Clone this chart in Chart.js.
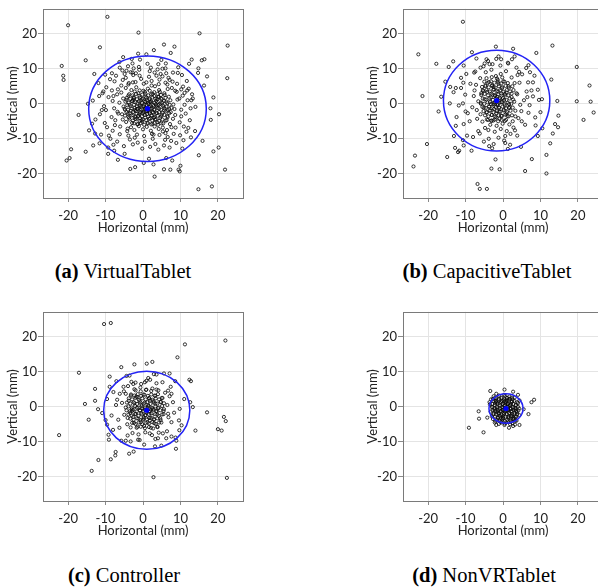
<!DOCTYPE html>
<html>
<head>
<meta charset="utf-8">
<script src="https://cdn.jsdelivr.net/npm/chart.js@4.4.1/dist/chart.umd.min.js"></script>
<style>
  html, body { margin: 0; padding: 0; background: #fff; overflow: hidden; }
  body { width: 598px; height: 588px; position: relative; }
  canvas { position: absolute; }
  .cap { position: absolute; font-family: "Liberation Serif", "DejaVu Serif", serif; font-size: 20.5px; color: #000; white-space: nowrap; transform: translate(-50%, -50%); }
  .cap b { font-weight: bold; }
</style>
</head>
<body>
<canvas id="chartA" width="300" height="250" style="left:0;top:0"></canvas>
<canvas id="chartB" width="300" height="250" style="left:360px;top:0"></canvas>
<canvas id="chartC" width="300" height="250" style="left:0;top:303px"></canvas>
<canvas id="chartD" width="300" height="250" style="left:360px;top:303px"></canvas>
<div class="cap" style="left:123px;top:271px"><b>(a)</b> VirtualTablet</div>
<div class="cap" style="left:487px;top:271px"><b>(b)</b> CapacitiveTablet</div>
<div class="cap" style="left:124px;top:575px"><b>(c)</b> Controller</div>
<div class="cap" style="left:484px;top:575px"><b>(d)</b> NonVRTablet</div>
<script>
// Axis setup
const xRange = [-26.7, 26.7];
const yRange = [-27, 27];
const tickStep = 10;

// Panel (a) VirtualTablet - selection points (mm)
const virtualTabletPoints = [
  [-20,22.3],[-9.5,24.7],[-1.2,20.2],[15.1,20.0],[22.6,16.5],[-11.5,16.0],[2.9,15.2],[5.6,16.8],[8.4,16.2],[7.4,14.4],
  [-1.3,14.2],[-5.3,13.2],[-21.7,10.7],[-21.3,7.9],[-21.2,6.7],[-15.3,12.3],[-13.0,8.4],[-10.1,8.2],[22.5,7.2],[17.1,7.7],
  [13.0,12.5],[12.3,11.3],[15.7,12.3],[16.4,12.6],[14.8,10.0],[14.7,8.7],[16.3,5.1],[18.8,1.7],[18.0,-1.4],[18.1,-4.7],
  [20.3,-3.1],[-17.2,-3.3],[-13.6,-5.8],[-14.4,-7.7],[-19.2,-13.1],[-19.6,-15.6],[-20.4,-16.3],[-15.3,-13.8],[-9.3,-14.4],[-6.7,-16.1],
  [-4.9,-14.4],[-3.4,-18.7],[-2.1,-18.2],[0.2,-17.0],[3.1,-20.9],[1.6,-15.8],[2.8,-17.4],[5.6,-18.8],[7.3,-18.9],[6.2,-15.6],
  [9.5,-18.9],[9.8,-19.4],[10.0,-17.8],[7.8,-16.3],[14.8,-24.5],[18.4,-23.7],[21.9,-18.9],[20.2,-12.6],[18.8,-13.7],[14.9,-14.8],
  [15.9,-10.7],[13.9,-7.9],[12.1,-7.0],[10.8,-10.5],[11.6,-8.1],[10.5,-12.9],[-12.8,-8.6],[-11.6,-11.4],[-9.1,-9.2],[-7.7,-13.5],
  [-7.9,-11.8],[-13.3,-12.0],[-14.7,-0.1],[-11.7,2.1],[-11.0,-1.9],[-9.9,-1.9],[-10.6,3.4],[-7.6,6.3],[-6.7,4.0],[-8.1,0.7],
  [-8.3,3.7],[-5.3,1.4],[8.0,8.8],[9.3,8.7],[10.4,8.1],[5.2,7.7],[6.5,5.4],[11.1,3.0],[12.9,0.9],[13.3,1.4],
  [12.7,-1.4],[9.0,3.3],[10.2,4.0],[11.8,3.7],[12.2,4.2],[7.7,4.4],[6.0,10.0],[4.1,11.2],[1.2,11.3],[-1.1,10.4],
  [-2.5,10.0],[-2.8,11.4],[-2.8,8.8],[-4.4,9.3],[-4.9,8.4],[-6.2,10.2],[-0.9,7.9],[0.9,6.0],[3.1,8.8],[3.6,7.9],
  [4.4,6.8],[7.1,6.7],[2.3,5.1],[-2.7,6.0],[-3.9,5.4],
  [-9.2,1.8],[-8.4,-3.9],[-7.5,-6.2],[-6.9,2.6],[-6.2,-8.8],[-5.8,5.1],[-4.6,7.3],[-3.5,-10.3],[-2.6,8.1],[-1.4,-11.2],
  [-0.5,7.0],[1.8,9.2],[3.3,-11.6],[4.7,8.4],[5.9,-10.4],[6.8,7.3],[8.2,-8.7],[9.1,5.6],[9.8,-5.4],[10.6,2.2],
  [11.4,-2.9],[10.9,-6.6],[8.9,-11.3],[-9.6,-6.8],[-10.4,-0.8],[-9.8,4.6],[-7.2,7.9],[-8.7,-10.1],[-5.1,-12.2],[-0.2,-12.9],
  [4.1,-13.2],[7.1,-12.6],[12.5,-4.8],[13.1,2.6],[11.7,6.4],[9.4,10.3],[4.9,12.4],[-0.8,12.5],[-6.3,11.8],[-11.9,5.8],
  [-12.7,-4.6],[-11.2,-8.9],[-3.9,-9.2],[2.6,-10.1],[6.6,-9.6],[8.7,-6.9],[8.6,3.6],[7.9,6.2],[-1.9,8.6],[-5.4,6.7],
  [-7.7,-1.4],[-7.4,-4.8],[5.2,9.9],[2.1,10.2],[12.8,-9.7],[-13.4,0.8],[-3.0,12.7],[0.9,14.0],[14.0,-1.0],[-9.3,-12.6],
  [-8.8,6.9],[-7.9,2.1],[-6.6,-2.9],[-6.1,-6.6],[-5.5,9.4],[-4.2,-7.9],[-3.3,8.9],[-2.2,-9.8],[-1.0,9.6],[0.5,-10.9],
  [1.6,7.6],[2.8,-8.9],[3.9,9.7],[5.3,-8.0],[6.2,8.6],[7.5,-10.7],[8.4,-1.6],[9.7,1.4],[10.2,-3.7],[11.1,-0.4],
  [-10.8,2.9],[-11.5,-3.1],[-10.2,-5.6],[-8.1,-7.8],[-6.9,-10.9],[-2.7,-11.7],[1.9,-12.4],[5.6,-12.0],[9.9,-9.1],[11.9,0.9],
  [10.7,4.8],[6.1,11.4],[-4.0,10.6],[-8.3,8.6],
  [-5.8,3.1],[-4.6,4.4],[-3.9,2.2],[-3.1,3.8],[-2.4,1.5],[-1.8,4.6],[-1.2,2.9],[-0.6,0.8],[0.1,3.6],[0.7,1.9],
  [1.3,4.2],[1.9,0.4],[2.6,2.7],[3.2,4.9],[3.8,1.2],[4.5,3.3],[5.1,0.2],[5.8,2.4],[6.6,4.1],[7.3,0.9],
  [-6.3,0.2],[-5.2,-0.9],[-4.4,1.0],[-3.6,-0.4],[-2.9,0.6],[-2.2,-1.3],[-1.5,0.1],[-0.9,-0.7],[-0.3,1.2],[0.4,-0.2],
  [1.0,0.9],[1.6,-1.1],[2.2,0.3],[2.9,-0.8],[3.5,0.7],[4.1,-0.5],[4.8,1.4],[5.5,-0.9],[6.2,0.5],[7.0,-1.6],
  [8.1,-0.3],[9.2,1.1],[-6.8,-2.4],[-5.6,-3.1],[-4.8,-1.8],[-4.0,-2.9],[-3.3,-2.1],[-2.6,-3.4],[-1.9,-2.2],[-1.3,-3.6],
  [-0.7,-1.9],[-0.1,-2.8],[0.5,-1.7],[1.1,-3.0],[1.7,-2.3],[2.4,-3.5],[3.0,-1.9],[3.7,-2.7],[4.3,-1.5],[5.0,-3.2],
  [5.7,-2.0],[6.5,-3.6],[7.4,-2.5],[8.6,-3.3],[10.2,-1.8],[-5.4,-4.6],[-4.5,-5.3],[-3.7,-4.1],[-2.9,-5.6],[-2.1,-4.4],
  [-1.4,-5.9],[-0.8,-4.2],[-0.2,-5.2],[0.6,-4.0],[1.2,-5.5],[1.9,-4.3],[2.5,-5.8],[3.2,-4.6],[3.9,-5.4],[4.6,-4.1],
  [5.4,-5.7],[6.3,-4.8],[7.2,-5.9],[8.0,-4.4],[-4.1,-7.2],[-3.2,-6.8],[-2.3,-7.6],[-1.1,-6.5],[0.0,-7.4],[1.0,-6.7],
  [2.1,-7.8],[3.1,-6.6],[4.2,-7.3],[5.3,-6.9],[6.4,-7.6],[7.6,-6.8],[-1.6,-8.9],[0.3,-9.3],[2.4,-8.7],[4.4,-9.0],
  [6.0,-8.5],[-2.0,6.1],[0.2,5.6],[2.3,6.4],[4.2,5.5],[-3.8,5.8],[6.0,5.9],[0.8,-1.4],[1.5,-0.3],[0.2,-2.4],
  [2.0,-1.6],[-0.5,-0.9],[1.2,-2.2],[2.7,-2.6],[-1.0,-3.0],[3.4,-0.3],[0.6,0.4],[-1.6,-1.6],[1.8,1.4],[2.9,-4.1],
  [-0.4,-4.8],[4.0,1.9],[-2.6,1.0],
  [-3.7,2.6],[-2.8,2.3],[-1.9,2.7],[-1.0,2.2],[-0.2,2.5],[0.6,2.8],[1.4,2.3],[2.2,2.6],[3.0,2.1],[3.9,2.7],
  [4.8,2.4],[5.7,2.9],[-4.3,1.6],[-3.4,1.3],[-2.5,1.8],[-1.6,1.2],[-0.8,1.7],[0.0,1.4],[0.9,1.6],[1.7,1.1],
  [2.5,1.7],[3.3,1.3],[4.2,1.8],[5.0,1.2],[6.0,1.6],[6.9,1.9],[-4.7,0.5],[-3.8,0.2],[-2.9,0.7],[-2.0,0.3],
  [-1.1,0.6],[-0.3,0.1],[0.6,0.5],[1.4,0.0],[2.2,0.6],[3.1,0.2],[3.9,0.5],[4.7,0.0],[5.6,0.7],[6.5,0.1],
  [-4.2,-0.5],[-3.3,-0.8],[-2.4,-0.4],[-1.6,-0.9],[-0.7,-0.5],[0.2,-0.8],[1.0,-0.4],[1.9,-0.9],[2.7,-0.5],[3.6,-0.7],
  [4.4,-0.3],[5.3,-0.6],[6.2,-0.9],[7.1,-0.4],[-4.9,-1.5],[-4.0,-1.8],[-3.1,-1.4],[-2.2,-1.9],[-1.3,-1.5],[-0.4,-1.7],
  [0.5,-1.3],[1.3,-1.9],[2.2,-1.4],[3.1,-1.7],[3.9,-1.3],[4.8,-1.8],[5.7,-1.4],[6.6,-1.9],[7.6,-1.3],[-4.4,-2.5],
  [-3.5,-2.8],[-2.6,-2.4],[-1.7,-2.9],[-0.8,-2.5],[0.1,-2.7],[0.9,-2.3],[1.8,-2.8],[2.6,-2.4],[3.5,-2.9],[4.3,-2.5],
  [5.2,-2.7],[6.1,-2.3],[7.0,-2.8],[-4.8,-3.5],[-3.9,-3.8],[-3.0,-3.4],[-2.1,-3.9],[-1.2,-3.5],[-0.3,-3.7],[0.5,-3.3],
  [1.4,-3.8],[2.2,-3.4],[3.1,-3.9],[3.9,-3.5],[4.8,-3.7],[5.7,-3.3],[6.6,-3.9],[-3.6,-4.6],[-2.7,-4.9],[-1.8,-4.5],
  [-0.9,-5.0],[0.0,-4.6],[0.9,-4.8],[1.6,-4.4],[2.5,-4.9],[3.4,-4.5],[4.3,-5.0],[5.2,-4.6],[6.0,-4.9],[-2.4,-5.7],
  [-1.5,-6.0],[-0.6,-5.6],[0.3,-6.1],[1.3,-5.7],[2.2,-6.0],[3.1,-5.6],[4.0,-6.1],[4.9,-5.7],[-2.2,3.4],[-0.9,3.7],
  [0.5,3.3],[1.8,3.6],[3.0,3.2],[4.3,3.8]
];

// Panel (b) CapacitiveTablet
const capacitiveTabletPoints = [
  [-10.7,23.3],[-1.9,16.2],[2.7,15.6],[13.2,16.5],[8.9,14.4],[-8.3,14.6],[-22.6,14.0],[-17.8,11.3],[-13.3,12.0],[-14.5,10.4],
  [-21.5,2.1],[-16.5,1.9],[-17.2,-2.3],[-14.2,0.0],[-15.4,6.2],[19.7,10.4],[23.1,5.1],[19.7,0.6],[23.4,0.5],[24.2,-2.6],
  [21.5,-4.7],[14.5,0.7],[14.8,-3.5],[14.7,-6.8],[13.9,-5.9],[13.3,-8.6],[12.6,-11.4],[11.6,-14.7],[11.6,-20.0],[7.7,-15.9],
  [5.9,-19.3],[10.5,-7.1],[9.3,-9.3],[12.9,6.8],[10.4,1.2],[9.6,1.0],[10.0,-2.5],[8.6,-4.0],[-20.3,-11.6],[-23.5,-14.9],
  [-23.9,-18.0],[-14.9,-15.3],[-12.8,-12.7],[-11.7,-13.5],[-12.0,-13.9],[-13.1,-9.3],[-10.7,-10.5],[-10.5,-12.0],[-8.0,-9.6],[-8.4,-13.5],
  [-3.1,-18.6],[-0.9,-18.8],[-2.0,-16.0],[-6.8,-23.0],[-6.2,-24.4],[-4.3,-24.4],[-3.7,-12.2],[-2.5,-11.6],[0.6,-11.3],[1.3,-13.0],
  [4.8,-12.4],[-12.4,-3.9],[-10.5,-5.9],[-10.0,-2.3],[-10.7,0.0],[-14.1,4.7],[-12.6,4.4],[-11.2,4.4],[-9.8,8.4],[-7.7,8.8],
  [-10.6,5.9],[6.2,10.1],[6.8,10.9],[8.4,7.9],[8.0,6.0],[6.7,6.0],[7.6,3.7],[8.0,2.0],[6.5,1.8],[7.1,-0.5],
  [4.9,-2.2],[3.3,-3.7],[5.0,-5.1],[3.2,-7.7],[2.0,-8.7],[0.6,-9.3],[-1.2,-9.8],[-4.8,-7.0],[-6.6,-7.9],[-4.4,12.6],
  [-1.8,12.7],[-0.5,12.6],[1.3,11.6],[3.6,10.2],[4.3,9.0],[-6.0,10.2],[-3.6,11.2],
  [-10.1,2.5],[-9.4,-2.8],[-8.7,5.6],[-8.9,-5.1],[-7.4,9.1],[-6.2,-8.6],[-4.9,11.4],[-3.8,-10.1],[-1.2,13.4],[0.3,-10.6],
  [2.4,12.6],[3.8,-9.2],[5.1,8.3],[5.9,-6.1],[6.3,3.4],[6.8,-2.7],[5.6,0.9],[4.4,5.9],[-11.8,-0.6],[-11.2,7.3],
  [-12.6,-6.4],[-9.6,-9.2],[-7.1,12.8],[-2.9,-12.8],[1.9,-11.8],[8.7,-6.3],[9.3,3.9],[7.2,8.9],[3.1,13.4],[-10.5,10.8],
  [-13.2,3.2],[4.1,-4.2],[3.6,2.9],[-8.2,-1.1],[-7.6,3.7],[-6.9,-4.4],[2.8,-6.9],[-5.1,-10.9],
  [-7.2,5.3],[-6.1,7.2],[-5.4,3.8],[-4.6,8.9],[-3.8,6.1],[-3.1,9.6],[-2.5,4.7],[-1.9,7.8],[-1.2,5.6],[-0.6,8.4],
  [0.1,6.3],[0.8,9.2],[1.5,4.9],[2.3,7.4],[3.1,5.8],[3.9,8.1],[-7.8,2.1],[-6.6,0.6],[-5.8,2.9],[-4.9,1.2],
  [-4.2,3.3],[-3.5,0.4],[-2.8,2.5],[-2.2,-0.3],[-1.6,1.9],[-1.0,0.2],[-0.4,2.8],[0.3,1.0],[0.9,3.1],[1.6,-0.2],
  [2.3,1.8],[3.0,0.5],[3.8,2.6],[4.6,-0.4],[-7.0,-1.9],[-6.0,-3.1],[-5.1,-1.2],[-4.4,-2.6],[-3.7,-0.9],[-3.0,-3.3],
  [-2.4,-1.6],[-1.8,-2.8],[-1.1,-1.1],[-0.5,-3.5],[0.2,-1.8],[0.9,-2.9],[1.6,-1.3],[2.4,-3.4],[3.3,-2.1],[-5.5,-5.2],
  [-4.3,-4.6],[-3.4,-6.1],[-2.6,-4.9],[-1.7,-6.4],[-0.9,-4.4],[-0.1,-5.8],[0.8,-4.7],[1.7,-6.0],[2.6,-5.1],[-3.9,-7.6],
  [-2.2,-8.1],[-0.6,-7.3],[1.0,-7.9],[-5.2,10.6],[-2.8,11.2],[-0.7,10.8],[1.4,11.4],[-4.0,12.1],[-1.9,0.7],[-1.3,3.4],
  [-2.6,-0.2],[-0.8,1.5],[-2.1,2.1],[-1.5,-0.5],[-3.2,1.7],[-0.2,0.4],[-2.4,4.0],[-1.0,-2.3],[-3.6,-2.0],[0.5,-0.6],
  [-1.4,6.7],[-2.9,5.2],[-0.3,4.3],[-4.7,4.9],[0.6,2.3],[-1.8,-4.0],[-3.1,-4.9],[1.2,-3.6],[2.8,3.8],[-5.9,-0.1],
  [-5.0,6.2],[-4.1,5.8],[-3.2,6.3],[-2.3,5.9],[-1.4,6.1],[-0.5,5.7],[0.4,6.2],[1.3,5.8],[-5.6,4.7],[-4.7,5.1],
  [-3.8,4.6],[-2.9,5.0],[-2.0,4.5],[-1.1,4.9],[-0.2,4.6],[0.7,5.0],[1.6,4.5],[2.5,4.9],[-5.3,3.5],[-4.4,3.8],
  [-3.5,3.4],[-2.6,3.9],[-1.7,3.5],[-0.8,3.7],[0.1,3.3],[1.0,3.8],[1.9,3.4],[-5.8,2.4],[-4.9,2.7],[-4.0,2.3],
  [-3.1,2.8],[-2.2,2.4],[-1.3,2.6],[-0.4,2.2],[0.5,2.7],[1.4,2.3],[2.3,2.8],[-5.4,1.4],[-4.5,1.1],[-3.6,1.5],
  [-2.7,1.0],[-1.8,1.4],[-0.9,1.1],[0.0,1.5],[0.9,1.0],[1.8,1.4],[2.7,1.1],[-5.9,0.2],[-5.0,-0.1],[-4.1,0.3],
  [-3.2,-0.2],[-2.3,0.2],[-1.4,-0.1],[-0.5,0.3],[0.4,-0.2],[1.3,0.2],[2.2,-0.1],[-5.5,-1.0],[-4.6,-1.3],[-3.7,-0.9],
  [-2.8,-1.4],[-1.9,-1.0],[-1.0,-1.3],[-0.1,-0.9],[0.8,-1.4],[1.7,-1.0],[2.6,-1.2],[-5.2,-2.2],[-4.3,-2.5],[-3.4,-2.1],
  [-2.5,-2.6],[-1.6,-2.2],[-0.7,-2.4],[0.2,-2.0],[1.1,-2.5],[2.0,-2.1],[-4.8,-3.4],[-3.9,-3.7],[-3.0,-3.3],[-2.1,-3.8],
  [-1.2,-3.4],[-0.3,-3.6],[0.6,-3.2],[1.5,-3.7],[-4.0,-4.7],[-3.1,-5.0],[-2.2,-4.6],[-1.3,-5.1],[-0.4,-4.7],[0.5,-5.0],
  [-4.4,7.2],[-3.0,7.5],[-1.6,7.1],[-0.2,7.4]
];

// Panel (c) Controller
const controllerPoints = [
  [-10.4,23.5],[-8.6,23.8],[22.0,18.8],[11.2,17.7],[9.2,14.0],[2.5,12.7],[1.0,12.2],[-2.3,12.0],[-5.8,11.2],[-17.1,9.6],
  [-12.8,5.0],[-12.8,1.6],[-15.5,0.7],[-12.0,-0.8],[-14.5,-3.8],[-22.4,-8.2],[-11.9,-15.3],[-13.7,-18.4],[-8.6,-15.1],[-7.3,-13.0],
  [-7.4,-14.0],[-3.7,-13.5],[-2.5,-12.9],[2.8,-20.2],[22.4,-20.4],[20.0,-6.5],[21.0,-6.9],[21.6,-3.0],[22.1,-4.2],[17.1,-1.7],
  [14.0,-6.9],[13.3,-0.2],[12.6,1.2],[12.4,7.6],[12.8,7.2],[11.0,2.1],[8.8,-12.1],[8.9,-9.8],[7.6,-8.6],[8.7,-8.9],
  [9.7,-6.8],[9.6,-4.0],[9.8,-0.7],[8.6,7.2],[7.1,9.4],[5.6,9.4],[3.6,9.1],[3.2,-11.4],[0.3,-10.9],[-8.9,8.5],
  [-7.1,7.2],[-8.9,5.6],[-9.6,2.1],[-10.9,-1.9],[-10.0,-3.9],[-9.1,-9.5],[-9.2,-8.1],[-8.0,-6.7],[-4.6,-9.8],[-3.3,-10.0],
  [-1.3,-9.5],[-4.4,8.7],[-2.0,6.8],[-0.5,6.4],[0.9,7.3],[1.9,7.6],[-4.6,3.6],[-6.2,3.6],[6.7,4.5],[7.6,3.6],
  [8.0,1.2],[6.7,-2.1],[5.3,-7.7],[6.2,-9.1],[4.0,-9.1],[1.8,-7.7],
  [-6.9,1.9],[-6.3,-6.1],[-5.2,5.6],[-4.1,-8.3],[-2.6,6.4],[-0.9,-9.6],[1.4,8.1],[3.3,-9.3],[5.2,6.9],[6.4,-7.1],
  [7.1,2.9],[7.6,-4.5],[-8.4,-2.6],[-7.9,4.1],[-3.6,8.8],[2.9,9.2],[8.3,-1.8],[7.4,5.6],[-5.8,-9.8],[10.3,-5.4],
  [-9.6,-5.2],[4.9,-11.2],
  [-5.1,4.3],[-4.0,5.8],[-3.2,3.1],[-2.3,4.9],[-1.5,2.6],[-0.7,5.4],[0.1,3.4],[0.9,4.8],[1.7,2.2],[2.5,5.1],
  [3.3,3.0],[4.1,4.6],[5.0,2.4],[5.9,3.9],[-5.6,1.0],[-4.6,-0.3],[-3.8,1.6],[-3.0,-0.8],[-2.3,0.9],[-1.6,-0.4],
  [-0.9,1.5],[-0.2,-0.6],[0.5,1.1],[1.2,-0.2],[1.9,1.7],[2.6,-0.7],[3.3,0.8],[4.0,-0.5],[4.8,1.3],[5.6,-0.8],
  [6.5,0.4],[-5.0,-2.4],[-4.1,-3.3],[-3.4,-1.9],[-2.6,-3.0],[-1.9,-2.1],[-1.2,-3.5],[-0.5,-2.0],[0.2,-3.1],[0.9,-1.8],
  [1.6,-3.3],[2.3,-2.0],[3.0,-3.6],[3.8,-2.3],[4.6,-3.4],[5.5,-2.2],[-4.2,-5.1],[-3.3,-6.0],[-2.4,-4.7],[-1.5,-5.8],
  [-0.6,-4.5],[0.3,-5.6],[1.2,-4.6],[2.1,-6.1],[3.0,-4.8],[3.9,-5.9],[4.9,-4.6],[-2.8,-7.6],[-1.2,-8.0],[0.6,-7.4],
  [2.4,-8.2],[4.2,-7.5],[-6.6,-3.8],[-7.2,0.4],[6.8,-3.1],[-3.1,7.0],[0.5,6.9],[3.6,6.6],[1.0,-1.2],[0.4,-0.9],
  [1.6,-1.5],[0.7,-2.5],[1.4,0.3],[-0.4,0.4],[2.1,-0.9],[-0.8,-1.2],[0.0,-3.8],[2.8,1.5],[-1.8,2.8],[1.8,-4.0],
  [-2.9,-1.3],[3.5,-1.3],
  [-3.2,3.4],[-2.3,3.1],[-1.4,3.5],[-0.5,3.0],[0.4,3.3],[1.3,3.0],[2.2,3.4],[3.1,3.1],[4.0,3.5],[-3.8,2.3],
  [-2.9,2.0],[-2.0,2.4],[-1.1,1.9],[-0.2,2.3],[0.7,2.0],[1.6,2.4],[2.5,1.9],[3.4,2.3],[4.3,2.0],[5.2,2.4],
  [-4.3,1.1],[-3.4,0.8],[-2.5,1.2],[-1.6,0.7],[-0.7,1.1],[0.2,0.8],[1.1,1.2],[2.0,0.7],[2.9,1.1],[3.8,0.8],
  [4.7,1.2],[5.6,0.9],[-3.9,0.0],[-3.0,-0.3],[-2.1,0.1],[-1.2,-0.4],[-0.3,0.0],[0.6,-0.3],[1.5,0.1],[2.4,-0.4],
  [3.3,0.0],[4.2,-0.3],[5.1,0.1],[-4.4,-1.1],[-3.5,-1.4],[-2.6,-1.0],[-1.7,-1.5],[-0.8,-1.1],[0.1,-1.3],[1.0,-0.9],
  [1.9,-1.4],[2.8,-1.0],[3.7,-1.5],[4.6,-1.1],[5.5,-1.3],[-3.9,-2.3],[-3.0,-2.6],[-2.1,-2.2],[-1.2,-2.7],[-0.3,-2.3],
  [0.6,-2.5],[1.5,-2.1],[2.4,-2.6],[3.3,-2.2],[4.2,-2.7],[5.1,-2.3],[-3.4,-3.5],[-2.5,-3.8],[-1.6,-3.4],[-0.7,-3.9],
  [0.2,-3.5],[1.1,-3.7],[2.0,-3.3],[2.9,-3.8],[3.8,-3.4],[4.7,-3.9],[-2.9,-4.7],[-2.0,-5.0],[-1.1,-4.6],[-0.2,-5.1],
  [0.7,-4.7],[1.6,-4.9],[2.5,-4.5],[3.4,-5.0],[4.3,-4.6],[-1.7,-6.1],[-0.6,-5.8],[0.5,-6.2],[1.6,-5.9],[2.7,-6.3],
  [3.8,-5.8],[-2.0,4.6],[-0.6,4.3],[0.8,4.7],[2.2,4.4],[3.6,4.8]
];

// Panel (d) NonVRTablet
const nonVRTabletPoints = [
  [-9.1,-6.1],[-5.2,-7.4],[-6.5,-1.4],[-6.4,-3.5],[-3.4,4.4],[0.4,4.8],[4.0,3.3],[7.6,1.2],[8.3,1.9],[6.8,-2.2],
  [5.5,-0.8],[4.4,-5.3],[-1.8,-5.3],[-2.2,-4.6],[-4.2,-3.2],[-3.6,1.2],[1.6,-6.1],[2.7,-5.6],[4.4,1.7],[-1.8,3.6],
  [-2.7,2.1],[2.7,4.2],
  [-3.2,2.0],[-2.5,2.9],[-1.8,1.6],[-1.1,3.1],[-0.4,2.3],[0.3,3.3],[1.0,1.8],[1.7,2.8],[2.4,1.4],[3.1,2.5],
  [3.8,1.2],[-3.5,0.6],[-2.8,-0.2],[-2.1,0.9],[-1.4,-0.4],[-0.7,0.8],[0.0,-0.3],[0.7,0.9],[1.4,-0.2],[2.1,0.7],
  [2.8,-0.5],[3.5,0.4],[4.3,-0.6],[-3.3,-1.5],[-2.6,-2.3],[-1.9,-1.2],[-1.2,-2.1],[-0.5,-1.3],[0.2,-2.2],[0.9,-1.1],
  [1.6,-2.0],[2.3,-1.4],[3.0,-2.3],[3.7,-1.6],[4.4,-2.5],[-2.7,-3.6],[-2.0,-4.2],[-1.3,-3.3],[-0.6,-4.4],[0.1,-3.5],
  [0.8,-4.6],[1.5,-3.4],[2.2,-4.3],[2.9,-3.6],[3.6,-4.1],[-1.1,-5.0],[0.4,-5.3],[1.9,-5.1],[3.2,-5.2],[0.8,-0.6],
  [0.3,0.2],[1.3,-0.9],[0.5,-1.6],[1.8,0.3],[-0.2,-0.9],[2.4,-2.8],[-1.6,1.1],[1.1,2.4],[-0.9,-2.7],[2.6,2.0],
  [-2.3,-0.9],[0.6,1.4],[1.5,-2.9],[-0.3,1.6],[3.3,-0.9],[-1.5,-1.6],[2.0,-0.8],[0.1,-2.8],[1.2,0.6],[-3.0,-2.8],
  [4.0,0.9],[-2.2,2.4],[3.4,-3.1],[0.6,3.0],[-0.6,-3.3],[1.9,2.2],[4.1,-1.2],
  [-1.8,2.4],[-1.1,2.1],[-0.4,2.5],[0.3,2.0],[1.0,2.4],[1.7,2.1],[2.4,2.5],[-2.6,1.6],[-1.9,1.3],[-1.2,1.7],
  [-0.5,1.2],[0.2,1.6],[0.9,1.3],[1.6,1.7],[2.3,1.2],[3.0,1.6],[-2.9,0.7],[-2.2,0.4],[-1.5,0.8],[-0.8,0.3],
  [-0.1,0.7],[0.6,0.4],[1.3,0.8],[2.0,0.3],[2.7,0.7],[3.4,0.3],[-3.0,-0.2],[-2.3,-0.5],[-1.6,-0.1],[-0.9,-0.6],
  [-0.2,-0.2],[0.5,-0.5],[1.2,-0.1],[1.9,-0.6],[2.6,-0.2],[3.3,-0.5],[4.0,-0.1],[-2.8,-1.1],[-2.1,-1.4],[-1.4,-1.0],
  [-0.7,-1.5],[0.0,-1.1],[0.7,-1.3],[1.4,-0.9],[2.1,-1.4],[2.8,-1.0],[3.5,-1.3],[-2.5,-2.0],[-1.8,-2.3],[-1.1,-1.9],
  [-0.4,-2.4],[0.3,-2.0],[1.0,-2.2],[1.7,-1.8],[2.4,-2.3],[3.1,-1.9],[3.8,-2.2],[-2.1,-2.9],[-1.4,-3.2],[-0.7,-2.8],
  [0.0,-3.3],[0.7,-2.9],[1.4,-3.1],[2.1,-2.7],[2.8,-3.2],[3.5,-2.8],[-1.6,-3.8],[-0.9,-4.1],[-0.2,-3.7],[0.5,-4.2],
  [1.2,-3.8],[1.9,-4.0],[2.6,-3.6],[3.3,-4.1],[-0.5,-4.6],[0.5,-4.9],[1.5,-4.5],[2.5,-4.8]
];

// Mean point and 95% ellipse per panel: [cx, cy], [rx, ry]
const centers = [[1.2, -1.5], [-1.7, 0.8], [1.0, -1.1], [0.8, -0.6]];
const ellipseRadii = [[15.7, 15.05], [14.2, 14.4], [11.5, 11.15], [4.55, 4.2]];

const axisFont = { family: 'Lato, "Open Sans", sans-serif', size: 13 };
const textColor = '#222';

const framePlugin = {
  id: 'frameAndEllipse',
  afterDatasetsDraw(chart, args, opts) {
    const { ctx, chartArea, scales } = chart;
    const [cx, cy] = opts.center;
    const [rx, ry] = opts.radii;
    const px = scales.x.getPixelForValue(cx);
    const py = scales.y.getPixelForValue(cy);
    const prx = Math.abs(scales.x.getPixelForValue(cx + rx) - px);
    const pry = Math.abs(scales.y.getPixelForValue(cy + ry) - py);
    ctx.save();
    ctx.strokeStyle = '#2323f5';
    ctx.lineWidth = 1.5;
    ctx.beginPath();
    ctx.ellipse(px, py, prx, pry, 0, 0, Math.PI * 2);
    ctx.stroke();
    ctx.fillStyle = '#0000ff';
    ctx.beginPath();
    ctx.arc(px, py, 2.6, 0, Math.PI * 2);
    ctx.fill();
    ctx.strokeStyle = '#7a7a7a';
    ctx.lineWidth = 1;
    ctx.strokeRect(Math.round(chartArea.left) + 0.5, Math.round(chartArea.top) + 0.5,
      Math.round(chartArea.right - chartArea.left), Math.round(chartArea.bottom - chartArea.top));
    ctx.restore();
  }
};

function makePanel(canvasId, points, idx) {
  const ctx = document.getElementById(canvasId).getContext('2d');
  return new Chart(ctx, {
    type: 'scatter',
    data: {
      datasets: [{
        data: points.map(p => ({ x: p[0], y: p[1] })),
        pointRadius: 1.6,
        pointBorderWidth: 1,
        borderColor: 'rgba(10,10,10,0.82)',
        backgroundColor: 'rgba(255,255,255,0)'
      }]
    },
    options: {
      responsive: false,
      animation: false,
      events: [],
      layout: { padding: { top: 5, right: 57, left: 0, bottom: 0 } },
      plugins: {
        legend: { display: false },
        tooltip: { enabled: false },
        frameAndEllipse: { center: centers[idx], radii: ellipseRadii[idx] }
      },
      scales: {
        x: {
          type: 'linear',
          min: xRange[0],
          max: xRange[1],
          ticks: { stepSize: tickStep, includeBounds: false, font: axisFont, color: textColor, padding: 6, maxRotation: 0 },
          grid: { color: '#e4e4e4', tickColor: '#8a8a8a', tickLength: 4 },
          border: { display: false },
          title: { display: true, text: 'Horizontal (mm)', font: axisFont, color: textColor, padding: { top: 0, bottom: 14 } },
          afterFit: s => { s.height = 52; }
        },
        y: {
          type: 'linear',
          min: yRange[0],
          max: yRange[1],
          ticks: { stepSize: tickStep, includeBounds: false, font: axisFont, color: textColor, padding: 1 },
          grid: { color: '#e4e4e4', tickColor: '#8a8a8a', tickLength: 5 },
          border: { display: false },
          title: { display: true, text: 'Vertical (mm)', font: axisFont, color: textColor, padding: { top: 5, bottom: 0 } },
          afterFit: s => { s.width = 43; }
        }
      }
    },
    plugins: [framePlugin]
  });
}

makePanel('chartA', virtualTabletPoints, 0);
makePanel('chartB', capacitiveTabletPoints, 1);
makePanel('chartC', controllerPoints, 2);
makePanel('chartD', nonVRTabletPoints, 3);
</script>
</body>
</html>
